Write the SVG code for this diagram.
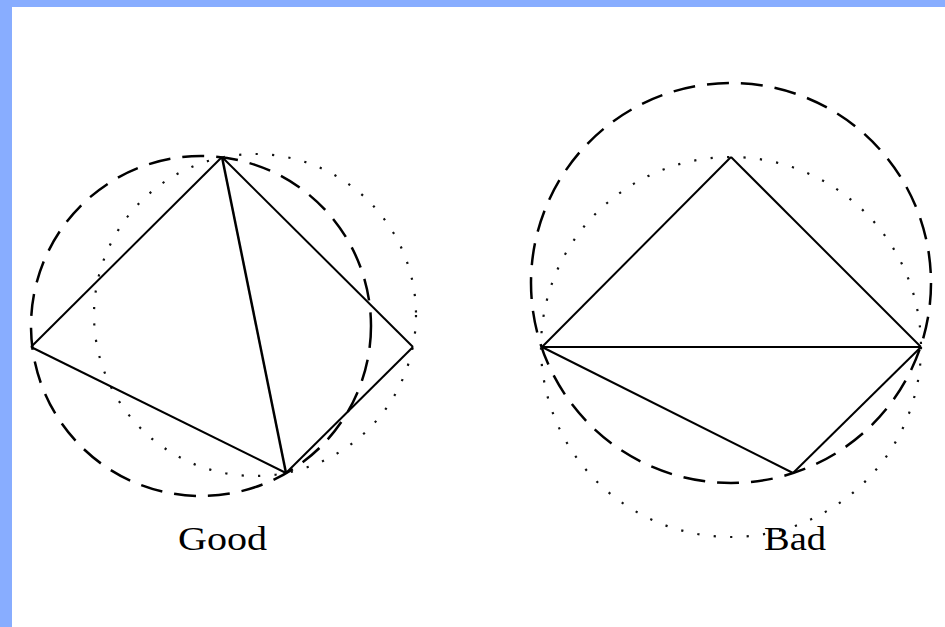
<svg xmlns="http://www.w3.org/2000/svg" width="945" height="627" viewBox="0 0 945 627">
  <style>
    .edge { stroke: #000; stroke-width: 2; fill: none; stroke-linejoin: round; }
    .diag { stroke-width: 2.5; }
    .dash { stroke: #000; stroke-width: 2.5; fill: none; stroke-dasharray: 22 12; }
    .dot { stroke: #111; stroke-width: 2.2; fill: none; stroke-dasharray: 2.2 14.3; }
    .label { font-family: "Liberation Serif", "DejaVu Serif", serif; font-size: 33px; fill: #000; }
  </style>
  <rect x="0" y="0" width="945" height="627" fill="#ffffff"/>
  <rect x="0" y="0" width="945" height="7" fill="#88adff"/>
  <rect x="0" y="0" width="12" height="627" fill="#88adff"/>

  <g id="good">
    <circle class="dash" cx="201" cy="326" r="170"/>
    <circle class="dot" cx="255" cy="315" r="161"/>
    <g id="good-edges">
      <line class="edge" x1="222" y1="157" x2="31" y2="347"/>
      <line class="edge" x1="222" y1="157" x2="413" y2="347"/>
      <line class="edge diag" x1="222" y1="157" x2="286" y2="473"/>
      <line class="edge" x1="31" y1="347" x2="286" y2="473"/>
      <line class="edge" x1="413" y1="347" x2="286" y2="473"/>
    </g>
    <text class="label" x="178" y="550" textLength="89" lengthAdjust="spacingAndGlyphs">Good</text>
  </g>

  <g id="bad">
    <circle class="dash" cx="731" cy="283" r="200"/>
    <circle class="dot" cx="731" cy="347" r="190"/>
    <g id="bad-edges">
      <line class="edge" x1="731" y1="157" x2="542" y2="347"/>
      <line class="edge" x1="731" y1="157" x2="921" y2="347"/>
      <line class="edge" x1="542" y1="347" x2="921" y2="347"/>
      <line class="edge" x1="542" y1="347" x2="793" y2="473"/>
      <line class="edge" x1="921" y1="347" x2="793" y2="473"/>
    </g>
    <text class="label" x="764" y="550" textLength="62" lengthAdjust="spacingAndGlyphs">Bad</text>
  </g>
</svg>
